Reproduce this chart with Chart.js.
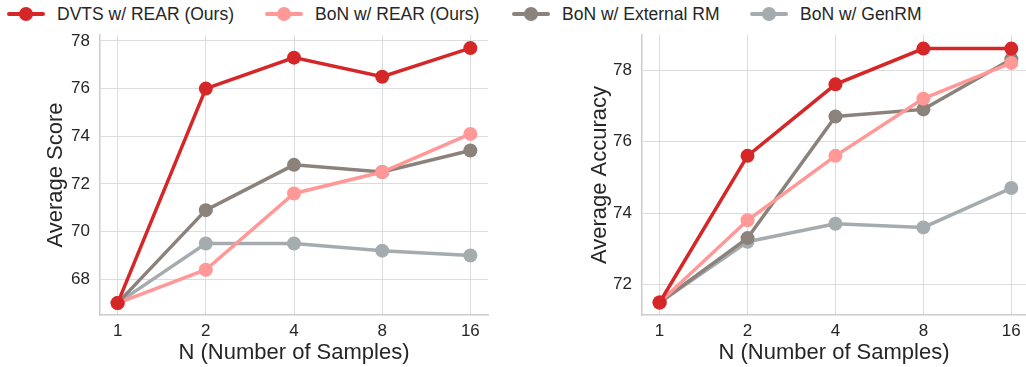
<!DOCTYPE html>
<html>
<head>
<meta charset="utf-8">
<script src="https://cdn.jsdelivr.net/npm/chart.js@4.4.1/dist/chart.umd.min.js"></script>
<style>
  html, body { margin: 0; padding: 0; background: #fff; }
  body { width: 1026px; height: 367px; position: relative; overflow: hidden;
         font-family: "Liberation Sans", Arial, sans-serif; color: #262626; }
  .item { position: absolute; top: 3px; height: 22px; display: flex; align-items: center;
          font-size: 17.5px; white-space: nowrap; }
  .mark { position: relative; width: 38px; height: 22px; margin-right: 12px; }
  .mark .ln { position: absolute; left: 0; right: 0; top: 9px; height: 4px; border-radius: 2px; }
  .mark .dot { position: absolute; left: 12px; top: 4px; width: 14px; height: 14px; border-radius: 50%; }
  .wrap { position: absolute; top: 30px; height: 337px; }
</style>
</head>
<body>
<div id="legend"></div>
<div class="wrap" style="left:0;width:500px"><canvas id="scoreChart"></canvas></div>
<div class="wrap" style="left:520px;width:506px"><canvas id="accChart"></canvas></div>
<script>
const nLabels = ['1', '2', '4', '8', '16'];
const seriesNames = ['DVTS w/ REAR (Ours)', 'BoN w/ REAR (Ours)', 'BoN w/ External RM', 'BoN w/ GenRM'];
const seriesColors = ['#d62728', '#ff9896', '#8c827c', '#a5acaf'];

// left panel: average score
const scoreDvts = [67.0, 76.0, 77.3, 76.5, 77.7];
const scoreBonRear = [67.0, 68.4, 71.6, 72.5, 74.1];
const scoreExternal = [67.0, 70.9, 72.8, 72.5, 73.4];
const scoreGenRM = [67.0, 69.5, 69.5, 69.2, 69.0];

// right panel: average accuracy
const accDvts = [71.5, 75.6, 77.6, 78.6, 78.6];
const accBonRear = [71.5, 73.8, 75.6, 77.2, 78.2];
const accExternal = [71.5, 73.3, 76.7, 76.9, 78.3];
const accGenRM = [71.5, 73.2, 73.7, 73.6, 74.7];

const legendPos = [7, 265, 512, 750];

(() => {
  const legend = document.getElementById('legend');
  seriesNames.forEach((name, i) => {
    const item = document.createElement('div');
    item.className = 'item';
    item.style.left = legendPos[i] + 'px';
    item.innerHTML = `<span class="mark"><span class="ln" style="background:${seriesColors[i]}"></span>` +
      `<span class="dot" style="background:${seriesColors[i]}"></span></span><span>${name}</span>`;
    legend.appendChild(item);
  });

  renderPanel('scoreChart', [scoreDvts, scoreBonRear, scoreExternal, scoreGenRM], {
    yTitle: 'Average Score', yMin: 66.5, yMax: 78.25, xMax: 4.2,
    axisWidth: 100, titlePad: 43, padRight: 12
  });
  renderPanel('accChart', [accDvts, accBonRear, accExternal, accGenRM], {
    yTitle: 'Average Accuracy', yMin: 71.15, yMax: 78.98, xMax: 4.167,
    axisWidth: 122, titlePad: 67, padRight: 0
  });
})();

// keep the plot area where the reference has it: no extra room for edge labels
function noEdgePadding(scale) {
  scale.paddingLeft = 0;
  scale.paddingRight = 0;
  scale.paddingTop = 0;
  scale.paddingBottom = 0;
}

function renderPanel(canvasId, series, cfg) {
  const canvas = document.getElementById(canvasId);
  if (!canvas) return;
  const context = canvas.getContext('2d');
  const font = { family: '"Liberation Sans", Arial, sans-serif' };

  new Chart(context, {
    type: 'line',
    data: {
      datasets: series.map((values, i) => ({
        label: seriesNames[i],
        data: values.map((v, k) => ({ x: k, y: v })),
        borderColor: seriesColors[i],
        backgroundColor: seriesColors[i],
        borderWidth: 3.5,
        pointRadius: 7,
        pointHoverRadius: 7,
        pointBorderWidth: 0,
        clip: false
      }))
    },
    options: {
      responsive: true,
      maintainAspectRatio: false,
      animation: false,
      layout: { autoPadding: false, padding: { top: 5, right: cfg.padRight, left: 0, bottom: 0 } },
      plugins: { legend: { display: false }, tooltip: { enabled: false } },
      scales: {
        x: {
          type: 'linear',
          min: -0.2,
          max: cfg.xMax,
          afterFit: scale => { scale.height = 52; noEdgePadding(scale); },
          grid: { color: '#dcdcdc', lineWidth: 1, drawTicks: false },
          border: { color: '#cccccc', width: 1.5 },
          ticks: {
            stepSize: 1,
            includeBounds: false,
            padding: 6,
            color: '#262626',
            font: { ...font, size: 17 },
            callback: value => nLabels[value] ?? ''
          },
          title: {
            display: true,
            text: 'N (Number of Samples)',
            color: '#262626',
            font: { ...font, size: 22 },
            padding: { top: 0, bottom: 1 }
          }
        },
        y: {
          min: cfg.yMin,
          max: cfg.yMax,
          afterFit: scale => { scale.width = cfg.axisWidth; noEdgePadding(scale); },
          grid: { color: '#dcdcdc', lineWidth: 1, drawTicks: false },
          border: { color: '#cccccc', width: 1.5 },
          ticks: {
            stepSize: 2,
            includeBounds: false,
            padding: 10,
            color: '#262626',
            font: { ...font, size: 17 }
          },
          title: {
            display: true,
            text: cfg.yTitle,
            color: '#262626',
            font: { ...font, size: 22 },
            padding: { top: cfg.titlePad, bottom: 0 }
          }
        }
      }
    }
  });
}
</script>
</body>
</html>
